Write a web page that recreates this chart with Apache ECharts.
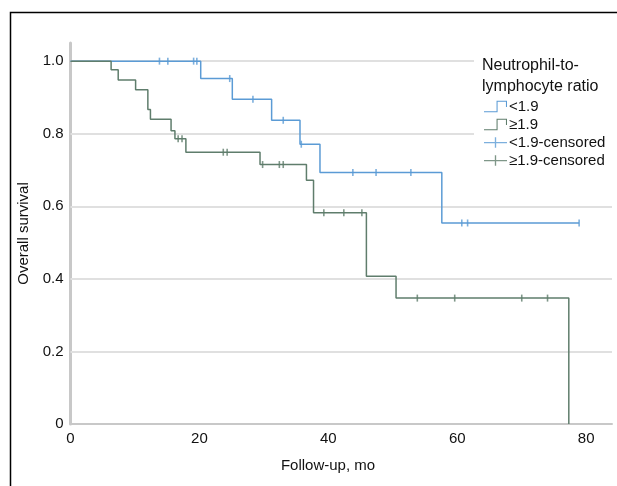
<!DOCTYPE html>
<html>
<head>
<meta charset="utf-8">
<script src="https://cdn.jsdelivr.net/npm/echarts@6/dist/echarts.min.js"></script>
<style>
  html, body { margin: 0; padding: 0; background: #fff; }
  #chart { width: 617px; height: 486px; }
</style>
</head>
<body>
<div id="chart"></div>
<script>
// Kaplan-Meier steps (months, survival)
const lowTimes = [0, 20.2, 25.1, 31.2, 35.6, 38.7, 57.6, 78.9];
const lowSurv = [1, 0.952, 0.895, 0.837, 0.771, 0.693, 0.554, 0.554];
const highTimes = [0, 6.3, 7.4, 10.1, 12.0, 12.4, 15.6, 16.2, 17.9, 29.4, 36.6, 37.7, 45.9, 50.5, 77.3];
const highSurv = [1, 0.976, 0.948, 0.921, 0.867, 0.840, 0.808, 0.786, 0.749, 0.715, 0.672, 0.582, 0.407, 0.347, 0];

// censoring times
const lowCensored = [13.8, 15.1, 19.1, 19.6, 24.7, 28.3, 33.0, 35.8, 43.8, 47.4, 52.8, 60.7, 61.6, 78.9];
const highCensored = [16.7, 17.3, 23.7, 24.3, 29.8, 32.4, 33.0, 39.3, 42.4, 45.2, 53.8, 59.6, 70.0, 74.0];

const seriesNames = ["<1.9", "≥1.9", "<1.9-censored", "≥1.9-censored"];
const yGridValues = [0.2, 0.4, 0.6, 0.8, 1.0];

const blue = "#5b9bd5";
const green = "#5f7d6c";

// survival value at time t on a step curve
function survAt(times, surv, t) {
  let s = surv[0];
  for (let i = 0; i < times.length; i++) {
    if (times[i] <= t) s = surv[i];
  }
  return s;
}

const tick = "path://M0,0 L2,0 L2,8 L0,8 Z";
const stepIcon = "path://M0,13 L12,13 L12,3 L22,3 L22,9 L21,9 L21,4 L13,4 L13,14 L0,14 Z";
const plusIcon = "path://M0,6 L24,6 L24,7.4 L0,7.4 Z M11.3,1 L12.7,1 L12.7,12 L11.3,12 Z";

const chart = echarts.init(document.getElementById("chart"));

chart.setOption({
  animation: false,
  textStyle: { fontFamily: "Liberation Sans, Arial, sans-serif" },
  grid: { left: 70.5, right: 5, top: 43, bottom: 62 },
  xAxis: {
    type: "value",
    min: 0,
    max: 84,
    interval: 20,
    axisLine: { show: true, lineStyle: { color: "#c8c8c8", width: 2 } },
    axisTick: { show: false },
    splitLine: { show: false },
    axisLabel: {
      fontSize: 15,
      color: "#111",
      margin: 7,
      showMaxLabel: false,
    },
  },
  yAxis: {
    type: "value",
    min: 0,
    max: 1.05,
    interval: 0.2,
    name: "Overall survival",
    nameLocation: "middle",
    nameGap: 38,
    nameTextStyle: { fontSize: 15, color: "#111" },
    axisLine: { show: true, lineStyle: { color: "#c8c8c8", width: 3 } },
    axisTick: { show: false },
    splitLine: { show: false },
    axisLabel: {
      fontSize: 15,
      color: "#111",
      margin: 7,
      showMaxLabel: false,
      formatter: (v) => (v === 0 ? "0" : v.toFixed(1)),
    },
  },
  legend: {
    data: seriesNames.map((name, i) => ({
      name,
      icon: i < 2 ? stepIcon : plusIcon,
    })),
    orient: "vertical",
    left: 479,
    top: 94,
    itemWidth: 23,
    itemHeight: 13,
    itemGap: 3,
    textStyle: { fontSize: 15, color: "#111", padding: [0, 0, 0, -3] },
  },
  graphic: [
    {
      type: "rect",
      z: 3,
      shape: { x: 474, y: 50, width: 150, height: 122 },
      style: { fill: "#fff" },
    },
    {
      type: "text",
      z: 5,
      left: 482,
      top: 55,
      style: {
        text: "Neutrophil-to-\nlymphocyte ratio",
        font: "16px Liberation Sans, Arial, sans-serif",
        lineHeight: 21,
        fill: "#111",
      },
    },
    {
      type: "text",
      z: 5,
      x: 328,
      y: 466,
      style: {
        text: "Follow-up, mo",
        font: "15px Liberation Sans, Arial, sans-serif",
        fill: "#111",
        align: "center",
        verticalAlign: "middle",
      },
    },
    {
      type: "rect",
      z: 5,
      shape: { x: 10.5, y: 12.5, width: 800, height: 800 },
      style: { fill: "none", stroke: "#000", lineWidth: 1.5 },
    },
  ],
  series: [
    {
      type: "line",
      name: "grid",
      data: [],
      z: 1,
      silent: true,
      markLine: {
        z: 1,
        silent: true,
        symbol: "none",
        label: { show: false },
        lineStyle: { color: "#e0e0e0", width: 2, type: "solid" },
        data: yGridValues.map((v) => ({ yAxis: v })),
      },
    },
    {
      type: "line",
      name: seriesNames[0],
      step: "end",
      showSymbol: false,
      symbol: "none",
      z: 4,
      color: blue,
      lineStyle: { color: blue, width: 1.5 },
      data: lowTimes.map((t, i) => [t, lowSurv[i]]),
    },
    {
      type: "line",
      name: seriesNames[1],
      step: "end",
      showSymbol: false,
      symbol: "none",
      z: 4,
      color: green,
      lineStyle: { color: green, width: 1.5 },
      data: highTimes.map((t, i) => [t, highSurv[i]]),
    },
    {
      type: "scatter",
      name: seriesNames[2],
      symbol: tick,
      symbolSize: [1.6, 7],
      z: 4,
      itemStyle: { color: blue },
      data: lowCensored.map((t) => [t, survAt(lowTimes, lowSurv, t)]),
    },
    {
      type: "scatter",
      name: seriesNames[3],
      symbol: tick,
      symbolSize: [1.6, 7],
      z: 4,
      itemStyle: { color: green },
      data: highCensored.map((t) => [t, survAt(highTimes, highSurv, t)]),
    },
  ],
});
</script>
</body>
</html>
